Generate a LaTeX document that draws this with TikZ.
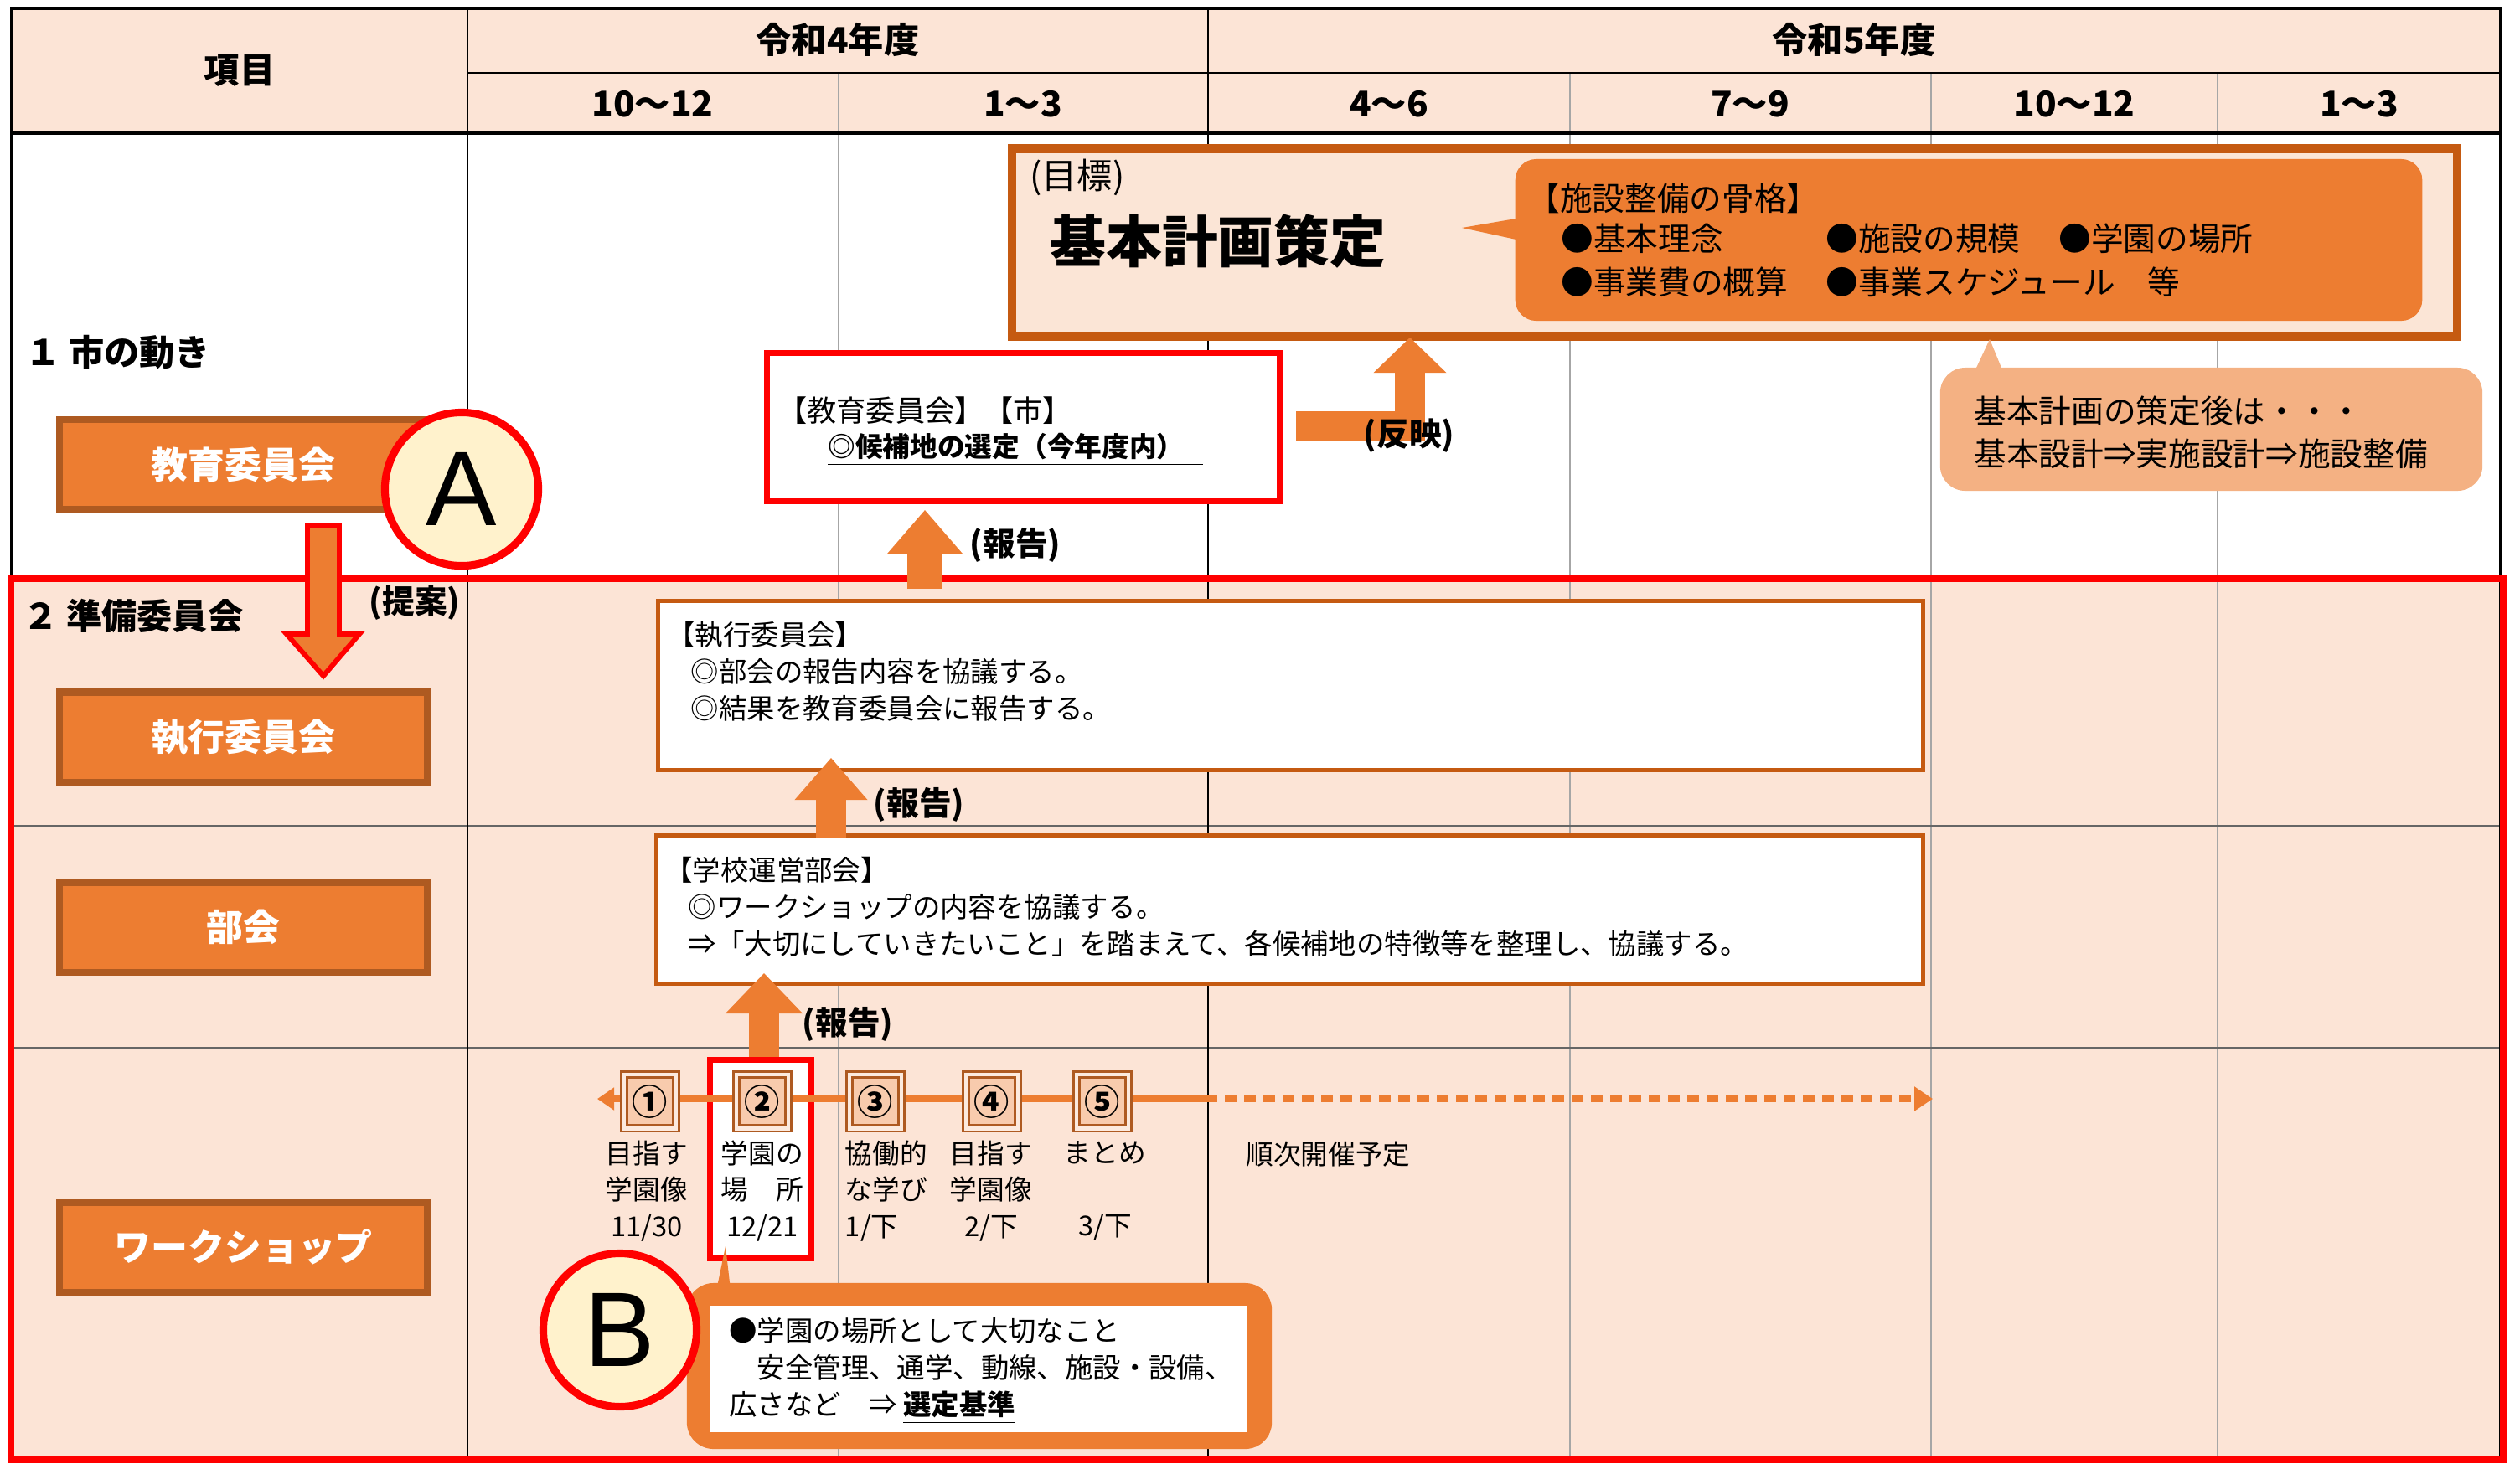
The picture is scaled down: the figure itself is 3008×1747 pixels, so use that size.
\documentclass[tikz,border=0pt]{standalone}
\usepackage{fontspec}
\setmainfont{Noto Sans CJK JP}
\newfontfamily\abcfont{Liberation Sans}
\usetikzlibrary{arrows.meta,calc}

\definecolor{peach}{HTML}{FCE4D6}
\definecolor{peachbox}{HTML}{FBE5D6}
\definecolor{oran}{HTML}{ED7D31}
\definecolor{oranline}{HTML}{C55A11}
\definecolor{brownline}{HTML}{AE5A21}
\definecolor{lightoran}{HTML}{F4B183}
\definecolor{cream}{HTML}{FFF2CC}
\definecolor{numfill}{HTML}{F8CBAD}
\definecolor{redline}{HTML}{FF0000}

\tikzset{
  hdr/.style={font=\bfseries\fontsize{12}{14}\selectfont},
  lbox/.style={draw=brownline, line width=2.3pt, fill=oran, text=white, minimum width=4.39cm, minimum height=1.07cm, font=\bfseries\fontsize{12.5}{15}\selectfont},
  wbox/.style={draw=oranline, line width=1.4pt, fill=white, inner sep=0pt},
  redbox/.style={draw=redline, line width=2pt, fill=white, inner sep=0pt},
  circmark/.style={circle, draw=redline, line width=2.6pt, fill=cream, minimum size=1.83cm, inner sep=0pt, font=\abcfont\fontsize{36}{36}\selectfont},
  txt/.style={inner sep=0pt, anchor=west, align=left, font=\fontsize{9.5}{12.5}\selectfont},
  paren/.style={inner sep=0pt, font=\bfseries\fontsize{11}{13}\selectfont},
  blk/.style={draw=oran, line join=miter},
  numbox/.style={draw=brownline, fill=numfill, line width=0.8pt, double=numfill!40!white, double distance=1.4pt, minimum width=0.62cm, minimum height=0.64cm, inner sep=0pt, font=\bfseries\fontsize{12}{12}\selectfont},
  wslab/.style={inner sep=0pt, align=center, font=\fontsize{9.3}{12.4}\selectfont},
  tline/.style={draw=oran, line width=2.3pt}
}

\begin{document}
\begin{tikzpicture}[x=0.01cm,y=-0.01cm,>=Stealth,thick]
    \useasboundingbox (0,0) rectangle (3008,1747);
    % Table
    \fill[peach] (14,10) rectangle (2985,159);
    \fill[peach] (13,691) rectangle (2988,1743);
    \foreach \x in {1001,1874,2305,2647}
        \draw[gray!70, line width=0.45pt] (\x,87) -- (\x,1743);
    \foreach \y in {986,1251}
        \draw[black!60, line width=0.45pt] (13,\y) -- (2988,\y);
    \draw[line width=0.6pt] (558,87) -- (2985,87);
    \draw[line width=0.9pt] (14,159) -- (2985,159);
    \foreach \x in {558,1442}
        \draw[line width=0.7pt] (\x,10) -- (\x,1743);
    \draw[line width=0.9pt] (14,1743) -- (14,10) -- (2985,10) -- (2985,1743);
    \draw[redline, line width=2.3pt] (13,691) rectangle (2988,1743);

    % Header
    \node[hdr] (komoku) at (286,84) {項目};
    \node[hdr] (r4) at (1000,47) {令和4年度};
    \node[hdr] (r5) at (2213,47) {令和5年度};
    \foreach \x/\t [count=\i] in {779/10～12,1221/1～3,1658/4～6,2089/7～9,2476/10～12,2816/1～3}
        \node[hdr] (per\i) at (\x,124) {\t};

    % Row 1
    \node[hdr, anchor=west, inner sep=0pt] (ichi) at (29,421) {１ 市の動き};
    \node[lbox] (kyoiku) at (290.5,554.5) {教育委員会};
    \node[circmark] (circA) at (551,584) {A};

    \node[redbox, minimum width=6.12cm, minimum height=1.77cm] (kyoshi) at (1221.5,510) {};
    \node[txt, font=\fontsize{10}{12}\selectfont] (kyoshi1) at (927,490) {【教育委員会】【市】};
    \node[txt, font=\bfseries\fontsize{9.3}{12}\selectfont] (kyoshi2) at (987,537) {\underline{◎候補地の選定（今年度内）\hspace{0.7em}}};

    \node[draw=oranline, line width=3.1pt, fill=peachbox, minimum width=17.24cm, minimum height=2.24cm, inner sep=0pt] (kihon) at (2070.5,289.5) {};
    \node[txt, font=\fontsize{12}{14}\selectfont] (mokuhyo) at (1228,212) {(目標)};
    \node[txt, font=\bfseries\fontsize{19}{22}\selectfont] (sakutei) at (1252,288) {基本計画策定};
    \node[fill=oran, rounded corners=0.25cm, minimum width=10.82cm, minimum height=1.93cm, inner sep=0pt] (kokkaku) at (2350,286.5) {};
    \fill[oran] ($(kokkaku.west)+(5,-26)$) -- (1745,272) -- ($(kokkaku.west)+(5,0)$) -- cycle;
    \node[txt, font=\fontsize{11}{13}\selectfont] (kk0) at (1822,237) {【施設整備の骨格】};
    \node[txt, font=\fontsize{11}{13}\selectfont] (kk1) at (1862,285) {●基本理念};
    \node[txt, font=\fontsize{11}{13}\selectfont] (kk2) at (2178,285) {●施設の規模};
    \node[txt, font=\fontsize{11}{13}\selectfont] (kk3) at (2456,285) {●学園の場所};
    \node[txt, font=\fontsize{11}{13}\selectfont] (kk4) at (1862,337) {●事業費の概算};
    \node[txt, font=\fontsize{11}{13}\selectfont] (kk5) at (2178,337) {●事業スケジュール　等};

    \node[fill=lightoran, rounded corners=0.3cm, minimum width=6.47cm, minimum height=1.47cm, inner sep=0pt] (atogo) at (2639.5,512.5) {};
    \fill[lightoran] ($(atogo.north west)+(43,5)$) -- (2375,405) -- ($(atogo.north west)+(76,5)$) -- cycle;
    \node[txt, font=\fontsize{11}{14.5}\selectfont] (atogo1) at (2355,516) {基本計画の策定後は・・・\\基本設計⇒実施設計⇒施設整備};

    % Row 2
    \node[hdr, anchor=west, inner sep=0pt] (ni) at (26,735) {２ 準備委員会};
    \node[lbox] (shikkoLab) at (290.5,880) {執行委員会};
    \node[lbox] (bukaiLab) at (290.5,1107) {部会};
    \node[lbox] (wsLab) at (290.5,1489) {ワークショップ};

    \node[wbox, minimum width=15.10cm, minimum height=2.02cm] (shikko) at (1540.5,818.5) {};
    \node[txt] (shikko1) at (795,802) {【執行委員会】\\\hspace{0.85em}◎部会の報告内容を協議する。\\\hspace{0.85em}◎結果を教育委員会に報告する。};
    \node[wbox, minimum width=15.12cm, minimum height=1.77cm] (gakko) at (1539.5,1086) {};
    \node[txt] (gakko1) at (792,1083) {【学校運営部会】\\\hspace{0.85em}◎ワークショップの内容を協議する。\\\hspace{0.85em}⇒「大切にしていきたいこと」を踏まえて、各候補地の特徴等を整理し、協議する。};

    % Workshop
    \node[redbox, minimum width=1.21cm, minimum height=2.37cm] (red2) at (908,1384) {};
    \coordinate (tlL) at (713,1312);
    \coordinate (tlM) at (1439,1312);
    \coordinate (tlR) at (2307,1312);
    \draw[tline, {Triangle[length=0.2cm,width=0.26cm]}-] (tlL) -- (tlM);
    \draw[tline, dash pattern=on 0.14cm off 0.09cm, -{Triangle[length=0.22cm,width=0.28cm]}] (tlM) -- (tlR);
    \foreach \x/\n [count=\i] in {776/①,910/②,1045/③,1184/④,1316/⑤}
        \node[numbox] (ws\i) at (\x,1315) {\n};
    \node[wslab] (wl1) at (772,1422) {目指す\\学園像\\11/30};
    \node[wslab] (wl2) at (910,1422) {学園の\\場　所\\12/21};
    \node[wslab, align=left] (wl3) at (1058,1422) {協働的\\な学び\\1/下};
    \node[wslab] (wl4) at (1183,1422) {目指す\\学園像\\2/下};
    \node[wslab] (wl5) at (1319,1422) {まとめ\\ \\3/下};
    \node[txt, font=\fontsize{9.3}{12.4}\selectfont] (junji) at (1486,1378) {順次開催予定};

    \node[fill=oran, rounded corners=0.32cm, minimum width=6.98cm, minimum height=1.98cm, inner sep=0pt] (basho) at (1169,1631) {};
    \fill[oran] ($(basho.north west)+(38,4)$) -- (866,1488) -- ($(basho.north west)+(53,4)$) -- cycle;
    \node[fill=white, minimum width=6.41cm, minimum height=1.51cm, inner sep=0pt] (bashoIn) at (1167.5,1634.5) {};
    \node[txt] (basho1) at (869,1637) {●学園の場所として大切なこと\\　安全管理、通学、動線、施設・設備、\\広さなど　⇒ \underline{\textbf{選定基準}}};
    \node[circmark] (circB) at (740,1588) {B};

    % Arrows
    \coordinate (t0) at (386,627);
    \filldraw[fill=oran, draw=redline, line width=1.7pt, line join=miter]
        (t0) ++(-19,0) -- ++(38,0) -- ++(0,130) -- ++(24,0) -- (386,807) -- ++(-44,-50) -- ++(25,0) -- cycle;
    \node[paren] (teian) at (495,720) {(提案)};

    \coordinate (h1a) at (1104,703);
    \draw[blk, line width=0.41cm, -{Triangle[length=0.52cm,width=0.9cm,line width=0pt]}] (h1a) -- ($(h1a |- kyoshi.south)+(0,7)$);
    \node[paren] (h1lab) at (1212,651) {(報告)};

    \coordinate (h2a) at (992,1000);
    \draw[blk, line width=0.36cm, -{Triangle[length=0.5cm,width=0.87cm,line width=0pt]}] (h2a) -- ($(h2a |- shikko.south)+(0,-17)$);
    \node[paren] (h2lab) at (1097,961) {(報告)};

    \coordinate (h3a) at (912,1262);
    \draw[blk, line width=0.35cm, -{Triangle[length=0.48cm,width=0.92cm,line width=0pt]}] (h3a) -- ($(h3a |- gakko.south)+(0,-15)$);
    \node[paren] (h3lab) at (1012,1223) {(報告)};

    \coordinate (hanei0) at (1547,508.5);
    \draw[blk, line width=0.36cm, -{Triangle[length=0.42cm,width=0.87cm,line width=0pt]}] (hanei0) -| ($(kihon.south -| 1683,0)+(0,-4)$);
    \node[paren] (hanlab) at (1682,520) {(反映)};

\end{tikzpicture}
\end{document}
